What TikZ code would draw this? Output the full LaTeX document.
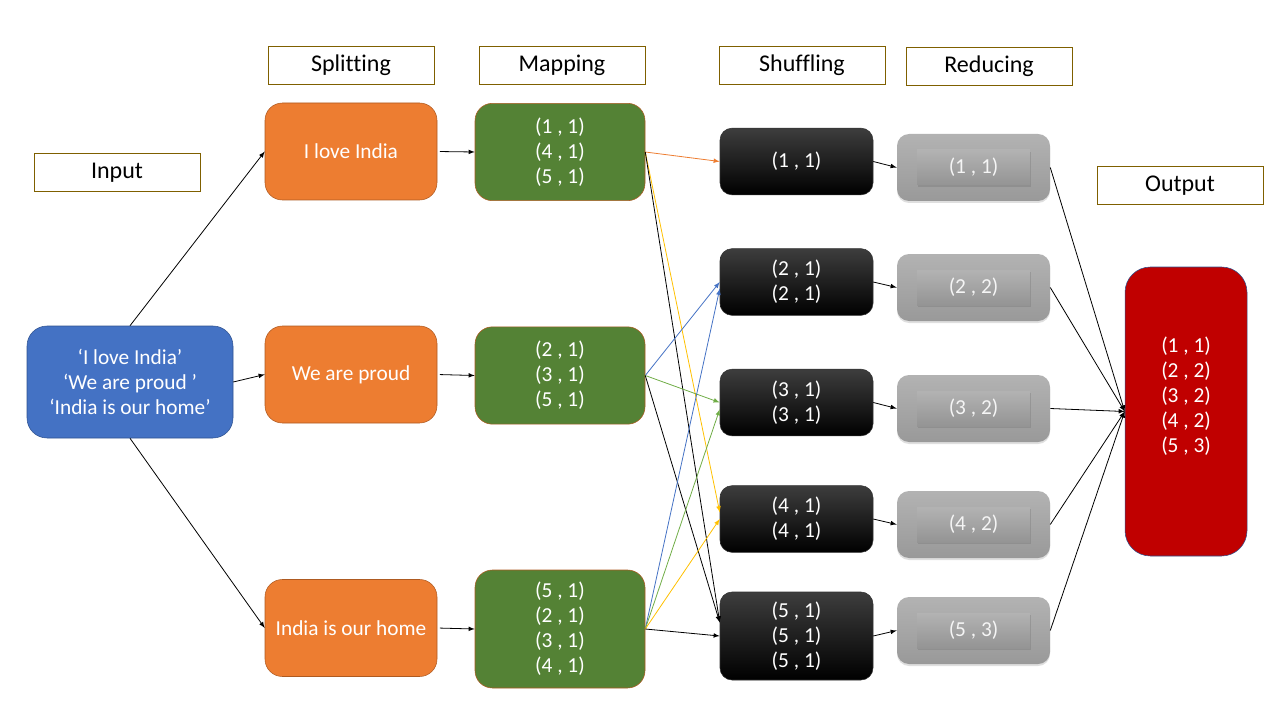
\documentclass[tikz,border=0pt]{standalone}
\usepackage{fontspec}
\setmainfont{Carlito}[Ligatures=CommonOff]
\usetikzlibrary{shadows}

\definecolor{inblue}{HTML}{4472C4}
\definecolor{inborder}{HTML}{2F528F}
\definecolor{splitorange}{HTML}{ED7D31}
\definecolor{splitborder}{HTML}{AE5A21}
\definecolor{mapgreen}{HTML}{548235}
\definecolor{labelborder}{HTML}{7F6000}
\definecolor{outred}{HTML}{C00000}
\definecolor{arryellow}{HTML}{FFC000}
\definecolor{arrgreen}{HTML}{70AD47}

\tikzset{
	stage/.style={draw=labelborder, fill=white, minimum width=124.5pt, minimum height=28.5pt, font=\fontsize{18}{22}\selectfont},
	inbox/.style={draw=inborder, fill=inblue, text=white, rounded corners=15pt, align=center, minimum width=154.5pt, minimum height=84pt, font=\fontsize{16}{19}\selectfont},
	splitbox/.style={draw=splitborder, fill=splitorange, text=white, rounded corners=13pt, minimum width=129pt, minimum height=72.75pt, font=\fontsize{16}{19}\selectfont},
	mapbox/.style={draw=splitborder, fill=mapgreen, text=white, rounded corners=13pt, align=center, minimum width=127.5pt, minimum height=73pt, font=\fontsize{16}{18.75}\selectfont},
	shufbox/.style={draw=black!80, top color=black!76, middle color=black, bottom color=black, text=white, rounded corners=9pt, align=center, minimum width=114.75pt, minimum height=50pt, font=\fontsize{16}{18.75}\selectfont},
	redbox/.style={top color=black!30, bottom color=black!40, rounded corners=9pt, minimum width=114.75pt, minimum height=50.25pt, drop shadow={opacity=0.25, shadow xshift=0pt, shadow yshift=-1.5pt}},
	redval/.style={top color=black!30, bottom color=black!42, text=white!96!black, minimum width=84.75pt, minimum height=26.25pt, font=\fontsize{16}{18.75}\selectfont, drop shadow={opacity=0.5, shadow xshift=0.5pt, shadow yshift=-1.2pt}},
	outbox/.style={draw=inborder, fill=outred, rounded corners=19pt, minimum width=91.5pt, minimum height=216.75pt},
	outval/.style={text=white, align=center, font=\fontsize{16}{18.75}\selectfont},
	link/.style={->, line width=0.6pt},
}

\begin{document}
\begin{tikzpicture}[x=0.75pt,y=-0.75pt,>=latex]
	\useasboundingbox (0,0) rectangle (1280,720);

	\node[stage] (lin) at (117,172.5) {Input};
	\node[stage] (lsplit) at (351,65) {Splitting};
	\node[stage] (lmap) at (562,65) {Mapping};
	\node[stage] (lshuf) at (802,65.5) {Shuffling};
	\node[stage] (lred) at (989,66) {Reducing};
	\node[stage] (lout) at (1180,185.5) {Output};

	\node[inbox] (in) at (130,382) {‘I love India’\\‘We are proud ’\\‘India is our home’};

	\node[splitbox] (s1) at (351,151.5) {I love India};
	\node[splitbox] (s2) at (351,374.5) {We are proud};
	\node[splitbox] (s3) at (351,628) {India is our home};

	\node[mapbox] (m1) at (560,152) {(1 , 1)\\(4 , 1)\\(5 , 1)};
	\node[mapbox] (m2) at (560,375.5) {(2 , 1)\\(3 , 1)\\(5 , 1)};
	\node[mapbox, minimum height=88.5pt] (m3) at (560,629) {(5 , 1)\\(2 , 1)\\(3 , 1)\\(4 , 1)};

	\node[shufbox] (sh1) at (796.5,161.5) {(1 , 1)};
	\node[shufbox] (sh2) at (796.5,282) {(2 , 1)\\(2 , 1)};
	\node[shufbox] (sh3) at (796.5,402.5) {(3 , 1)\\(3 , 1)};
	\node[shufbox] (sh4) at (796.5,519) {(4 , 1)\\(4 , 1)};
	\node[shufbox, minimum height=66pt] (sh5) at (796.5,636) {(5 , 1)\\(5 , 1)\\(5 , 1)};

	\node[redbox] (r1) at (973.5,167.5) {};
	\node[redbox] (r2) at (973.5,287.5) {};
	\node[redbox] (r3) at (973.5,408.5) {};
	\node[redbox] (r4) at (973.5,524.5) {};
	\node[redbox] (r5) at (973.5,630.5) {};
	\node[redval] (v1) at (r1) {(1 , 1)};
	\node[redval] (v2) at (r2) {(2 , 2)};
	\node[redval] (v3) at (r3) {(3 , 2)};
	\node[redval] (v4) at (r4) {(4 , 2)};
	\node[redval] (v5) at (r5) {(5 , 3)};

	\node[outbox] (out) at (1186,411.5) {};
	\node[outval] (outv) at (1186,396) {(1 , 1)\\(2 , 2)\\(3 , 2)\\(4 , 2)\\(5 , 3)};

	\draw[link] (in.north) -- (s1.west);
	\draw[link] (in.east) -- (s2.west);
	\draw[link] (in.south) -- (s3.west);

	\draw[link, shorten <=2pt] (s1.east) -- (m1.west);
	\draw[link, shorten <=2pt] (s2.east) -- (m2.west);
	\draw[link, shorten <=2pt] (s3.east) -- (m3.west);

	\draw[link, splitorange] (m1.east) -- (sh1.west);
	\draw[link, arryellow] (m1.east) -- (sh4.175);
	\draw[link] (m1.east) -- (sh5.170);
	\draw[link, inblue] (m2.east) -- (sh2.west);
	\draw[link, arrgreen] (m2.east) -- (sh3.west);
	\draw[link] (m2.east) -- (sh5.170);
	\draw[link, inblue] (m3.east) -- (sh2.185);
	\draw[link, arrgreen] (m3.east) -- (sh3.185);
	\draw[link, arryellow] (m3.east) -- (sh4.west);
	\draw[link] (m3.east) -- (sh5.west);

	\foreach \i in {1,...,5}
		\draw[link] (sh\i.east) -- (r\i.west);
	\foreach \i in {1,...,5}
		\draw[link] (r\i.east) -- (out.west);
\end{tikzpicture}
\end{document}
